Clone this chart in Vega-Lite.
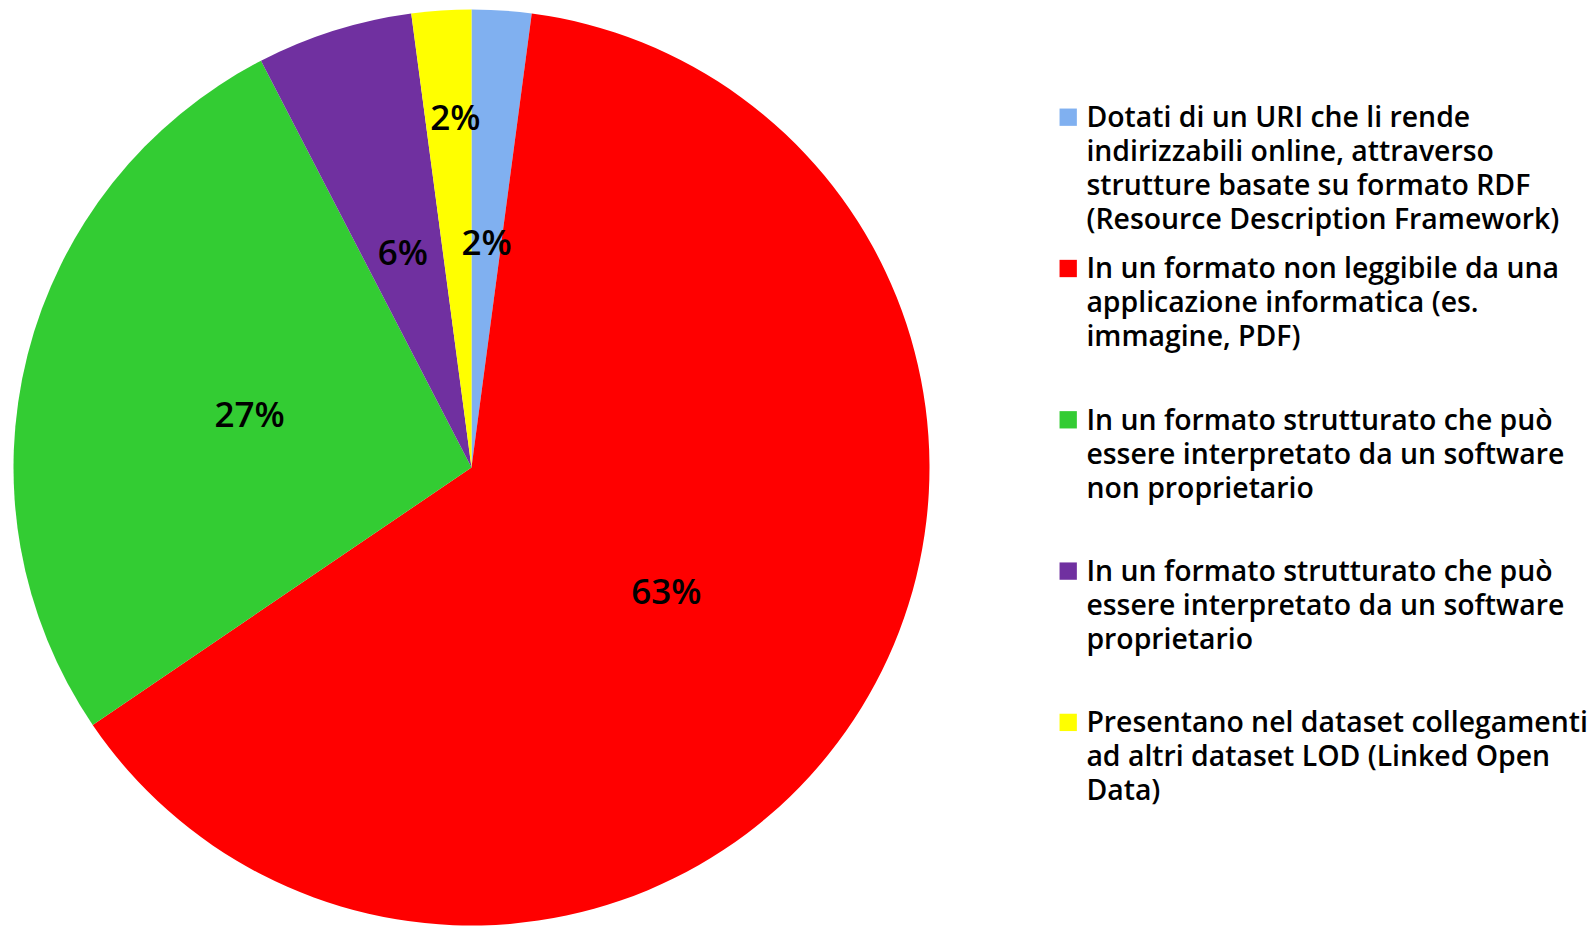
{
  "$schema": "https://vega.github.io/schema/vega-lite/v6.json",
  "width": 943,
  "height": 926,
  "padding": 0,
  "autosize": {"type": "pad"},
  "background": "white",
  "config": {"view": {"stroke": null}},
  "data": {
    "values": [
      {"cat": "Dotati di un URI che li rende\nindirizzabili online, attraverso\nstrutture basate su formato RDF\n(Resource Description Framework)", "value": 2.1, "ord": 1, "pct": "2%"},
      {"cat": "In un formato non leggibile da una\napplicazione informatica (es.\nimmagine, PDF)", "value": 63.4, "ord": 2, "pct": "63%"},
      {"cat": "In un formato strutturato che può\nessere interpretato da un software\nnon proprietario", "value": 26.9, "ord": 3, "pct": "27%"},
      {"cat": "In un formato strutturato che può\nessere interpretato da un software\nproprietario", "value": 5.5, "ord": 4, "pct": "6%"},
      {"cat": "Presentano nel dataset collegamenti\nad altri dataset LOD (Linked Open\nData)", "value": 2.1, "ord": 5, "pct": "2%"}
    ]
  },
  "encoding": {
    "theta": {"field": "value", "type": "quantitative", "stack": true},
    "order": {"field": "ord", "type": "quantitative", "sort": "ascending"}
  },
  "layer": [
    {
      "mark": {"type": "arc", "outerRadius": 458, "yOffset": 4.5},
      "encoding": {
        "color": {
          "field": "cat",
          "type": "nominal",
          "sort": null,
          "scale": {
            "domain": [
              "Dotati di un URI che li rende\nindirizzabili online, attraverso\nstrutture basate su formato RDF\n(Resource Description Framework)",
              "In un formato non leggibile da una\napplicazione informatica (es.\nimmagine, PDF)",
              "In un formato strutturato che può\nessere interpretato da un software\nnon proprietario",
              "In un formato strutturato che può\nessere interpretato da un software\nproprietario",
              "Presentano nel dataset collegamenti\nad altri dataset LOD (Linked Open\nData)"
            ],
            "range": ["#80B0F0", "#FF0000", "#33CC33", "#7030A0", "#FFFF00"]
          },
          "legend": {
            "orient": "none",
            "legendX": 1054,
            "legendY": 103,
            "title": null,
            "padding": 0,
            "symbolType": "square",
            "symbolSize": 300,
            "symbolStrokeWidth": 0,
            "symbolOpacity": 1,
            "labelFont": "Open Sans",
            "labelFontSize": 28.4,
            "labelFontWeight": 600,
            "labelColor": "black",
            "labelLimit": 700,
            "labelOffset": 4,
            "labelBaseline": "top",
            "rowPadding": 19.3,
            "gridAlign": "all",
            "labelExpr": "split(datum.label, '\\n')",
            "encode": {"labels": {"update": {"lineHeight": {"value": 34}, "dy": {"value": -12.2}}}}
          }
        }
      }
    },
    {
      "mark": {"type": "text", "radius": 229, "yOffset": 9.5, "font": "Open Sans", "fontSize": 35, "fontWeight": 600, "align": "center", "baseline": "middle"},
      "encoding": {
        "text": {"field": "pct"},
        "color": {"value": "black"},
        "opacity": {"condition": {"test": "datum.ord === 5", "value": 0}, "value": 1}
      }
    },
    {
      "mark": {"type": "text", "radius": 352, "yOffset": 7.5, "dx": 7, "font": "Open Sans", "fontSize": 35, "fontWeight": 600, "align": "center", "baseline": "middle"},
      "encoding": {
        "text": {"field": "pct"},
        "color": {"value": "black"},
        "opacity": {"condition": {"test": "datum.ord === 5", "value": 1}, "value": 0}
      }
    }
  ]
}
